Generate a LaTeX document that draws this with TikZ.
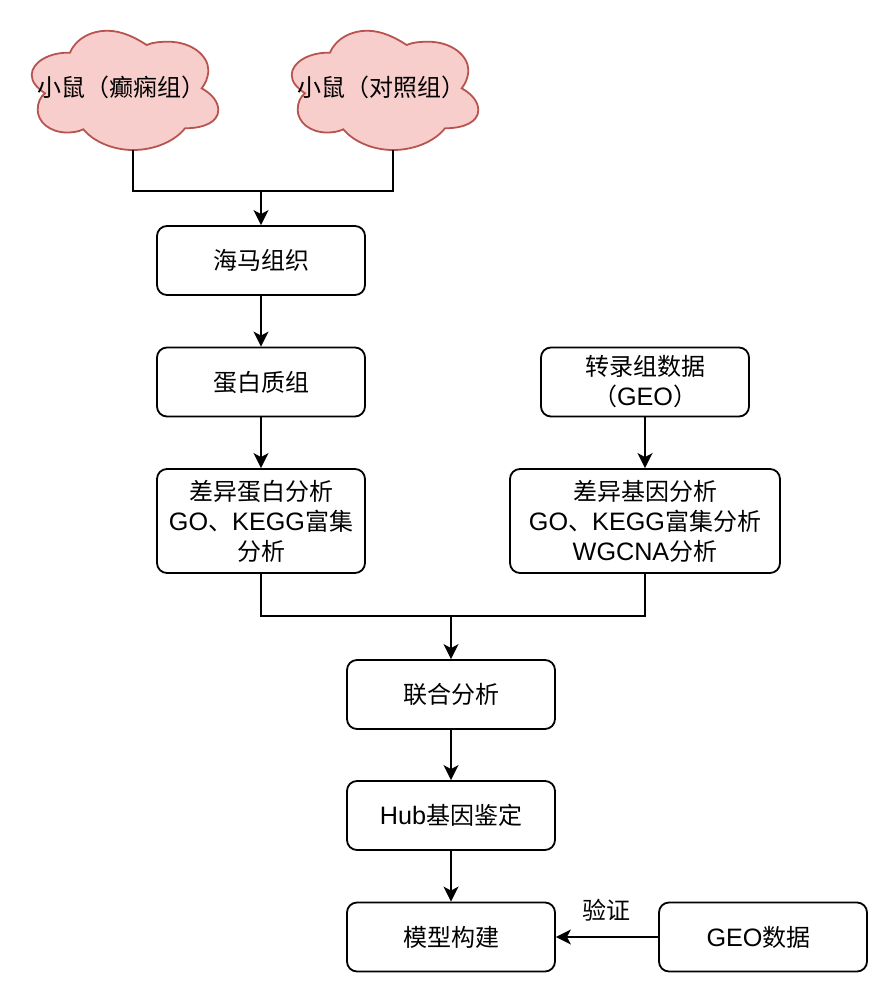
\documentclass[tikz,border=0pt]{standalone}
\usepackage{fontspec}
\setmainfont{Noto Sans CJK SC}
\newfontfamily\latinf[Scale=1.05]{Liberation Sans}
\usetikzlibrary{arrows.meta,positioning}
\newcommand{\cloudshape}[1]{%
\path[draw=cloudline,fill=cloudfill,line width=1.8pt,shift={(#1,0)}]
 (70,52.7) .. controls (76,38) and (92,30.7) .. (107,30.7)
 .. controls (122,30.7) and (136,38) .. (146.7,45)
 .. controls (152,42.5) and (160,41.7) .. (168,41.7)
 .. controls (192,41.7) and (208.3,56) .. (208.3,70)
 .. controls (208.3,78) and (205,84) .. (201.7,88.3)
 .. controls (212,94) and (218.3,102) .. (218.3,110)
 .. controls (218.3,122) and (204,128.3) .. (185,128.3)
 .. controls (175,141) and (155,150) .. (133,150)
 .. controls (112,150) and (93,141) .. (83.3,129.3)
 .. controls (78,132) and (72,132.5) .. (67,132.5)
 .. controls (50,132.5) and (37.7,122) .. (37.7,110)
 .. controls (37.7,103) and (40,97) .. (45,93.3)
 .. controls (37,88) and (31.7,82) .. (31.7,75)
 .. controls (31.7,62) and (50,52) .. (70,52.7) -- cycle;}
\definecolor{cloudfill}{HTML}{F8CECC}
\definecolor{cloudline}{HTML}{B85450}
\tikzset{
 >={Stealth[length=15pt,width=15pt,inset=4pt]},
 box/.style={draw=black,line width=1.8pt,rounded corners=10pt,align=center,font=\fontsize{24}{30}\selectfont,inner sep=0pt,minimum width=208pt,minimum height=69pt,fill=white,text=black},
 txt/.style={align=center,font=\fontsize{24}{30}\selectfont,inner sep=0pt,text=black},
 conn/.style={draw=black,line width=2pt},
}
\begin{document}
\begin{tikzpicture}[x=1pt,y=-1pt]
\useasboundingbox (0,0) rectangle (885,990);
\cloudshape{0}
\cloudshape{260}
\coordinate (c1) at (132.9,150);
\coordinate (c2) at (392.9,150);
\coordinate (m1) at (261,191.3);
\coordinate (m2) at (451,616);
\node[txt] (t1) at (121,87) {小鼠（癫痫组）};
\node[txt] (t2) at (381,87) {小鼠（对照组）};
\node[box] (hm) at (261,260.5) {海马组织};
\node[box] (db) at (261,382) {蛋白质组};
\node[box,minimum height=104pt] (cy) at (261,521) {差异蛋白分析\\{\latinf GO}、{\latinf KEGG}富集\\分析};
\node[box] (zl) at (645,382) {转录组数据\\（{\latinf GEO}）};
\node[box,minimum width=270pt,minimum height=104pt] (jy) at (645,521) {差异基因分析\\{\latinf GO}、{\latinf KEGG}富集分析\\{\latinf WGCNA}分析};
\node[box] (lh) at (451,694.5) {联合分析};
\node[box] (hub) at (451,815.5) {{\latinf Hub}基因鉴定};
\node[box] (mx) at (451,937) {模型构建};
\node[box] (geo) at (763,937) {\hspace{-9pt}\raisebox{-3pt}{{\latinf GEO}数据}};
\node[txt] (yz) at (606,910) {验证};
\draw[conn] (c1) |- (m1);
\draw[conn] (c2) |- (m1);
\draw[conn,->] (m1) -- (hm.north);
\draw[conn,->] (hm) -- (db);
\draw[conn,->] (db) -- (cy);
\draw[conn,->] (zl) -- (jy);
\draw[conn] (cy.south) |- (m2) -| (jy.south);
\draw[conn,->] (m2) -- (lh.north);
\draw[conn,->] (lh) -- (hub);
\draw[conn,->] (hub) -- (mx);
\draw[conn,->] (geo) -- (mx);
\end{tikzpicture}
\end{document}
